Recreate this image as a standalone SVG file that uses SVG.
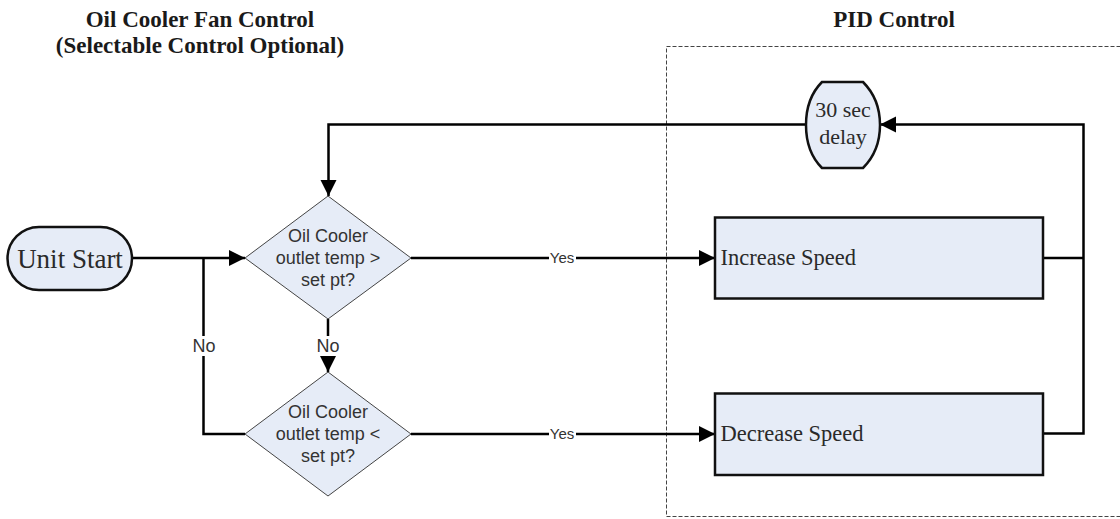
<svg xmlns="http://www.w3.org/2000/svg" width="1120" height="519" viewBox="0 0 1120 519">
  <style>
    .title { font-family: "Liberation Serif", "Times New Roman", serif; font-weight: bold; font-size: 23px; fill: #1a1a1a; text-anchor: middle; }
    .serif { font-family: "Liberation Serif", "Times New Roman", serif; fill: #2a2a2a; }
    .sans { font-family: "Liberation Sans", Arial, sans-serif; fill: #333333; }
    .node { fill: #e6ecf7; stroke: #111111; stroke-width: 2.5; }
    .decision { fill: #e6ecf7; stroke: #444444; stroke-width: 1; }
    .wire { fill: none; stroke: #000000; stroke-width: 2.5; }
    .group { fill: none; stroke: #444444; stroke-width: 1; stroke-dasharray: 4 2; }
    .lbl-bg { fill: #ffffff; }
  </style>
  <defs>
    <marker id="arrow" viewBox="0 0 10 10" refX="10" refY="5" markerWidth="6.5" markerHeight="6.5" markerUnits="strokeWidth" orient="auto">
      <path d="M0,0 L10,5 L0,10 Z" fill="#000000"/>
    </marker>
  </defs>

  <rect width="1120" height="519" fill="#ffffff"/>

  <!-- section headings -->
  <text class="title" x="200" y="27">Oil Cooler Fan Control</text>
  <text class="title" x="200" y="53">(Selectable Control Optional)</text>
  <text class="title" x="894" y="27">PID Control</text>

  <!-- PID control boundary -->
  <rect class="group" x="666.5" y="46.5" width="460" height="470"/>

  <!-- connectors -->
  <g id="connectors">
    <path class="wire" d="M132,258 H245" marker-end="url(#arrow)"/>
    <path class="wire" d="M245,434 H203.5 V258"/>
    <path class="wire" d="M411,258 H715" marker-end="url(#arrow)"/>
    <path class="wire" d="M328,319 V372" marker-end="url(#arrow)"/>
    <path class="wire" d="M411,434 H715" marker-end="url(#arrow)"/>
    <path class="wire" d="M1043,258 H1083.5"/>
    <path class="wire" d="M1043,433.5 H1083.5 V124.5 H880" marker-end="url(#arrow)"/>
    <path class="wire" d="M806,124.5 H328.5 V196" marker-end="url(#arrow)"/>

    <rect class="lbl-bg" x="192" y="336" width="24" height="20"/>
    <text class="sans" x="204" y="352" font-size="18" text-anchor="middle">No</text>
    <rect class="lbl-bg" x="316" y="336" width="24" height="20"/>
    <text class="sans" x="328" y="352" font-size="18" text-anchor="middle">No</text>
    <rect class="lbl-bg" x="549" y="250" width="27" height="17"/>
    <text class="sans" x="562" y="263" font-size="15" text-anchor="middle">Yes</text>
    <rect class="lbl-bg" x="549" y="426" width="27" height="17"/>
    <text class="sans" x="562" y="439" font-size="15" text-anchor="middle">Yes</text>
  </g>

  <g id="unit-start">
    <rect class="node" x="7.5" y="227" width="124.5" height="63" rx="31.5" ry="31.5"/>
    <text class="serif" x="70" y="268" font-size="27" text-anchor="middle">Unit Start</text>
  </g>

  <g id="check-above-setpoint">
    <path class="decision" d="M328,196 L411,258 L328,319 L245,258 Z"/>
    <text class="sans" x="328" y="242" font-size="18" text-anchor="middle">Oil Cooler</text>
    <text class="sans" x="328" y="264" font-size="18" text-anchor="middle">outlet temp &gt;</text>
    <text class="sans" x="328" y="286" font-size="18" text-anchor="middle">set pt?</text>
  </g>

  <g id="check-below-setpoint">
    <path class="decision" d="M328,372 L411,434 L328,496 L245,434 Z"/>
    <text class="sans" x="328" y="418" font-size="18" text-anchor="middle">Oil Cooler</text>
    <text class="sans" x="328" y="440" font-size="18" text-anchor="middle">outlet temp &lt;</text>
    <text class="sans" x="328" y="462" font-size="18" text-anchor="middle">set pt?</text>
  </g>

  <g id="delay">
    <path class="node" d="M822,82 H863 C874,93 880,108 880,125 C880,142 874,157 863,168 H822 C811,157 806,142 806,125 C806,108 811,93 822,82 Z"/>
    <text class="serif" x="843" y="117" font-size="22" text-anchor="middle">30 sec</text>
    <text class="serif" x="843" y="144" font-size="22" text-anchor="middle">delay</text>
  </g>

  <g id="increase-speed">
    <rect class="node" x="715" y="217.5" width="328" height="81"/>
    <text class="serif" x="720.5" y="265" font-size="22.5">Increase Speed</text>
  </g>

  <g id="decrease-speed">
    <rect class="node" x="715" y="393.5" width="328" height="81.5"/>
    <text class="serif" x="720.5" y="441" font-size="22.5">Decrease Speed</text>
  </g>
</svg>
